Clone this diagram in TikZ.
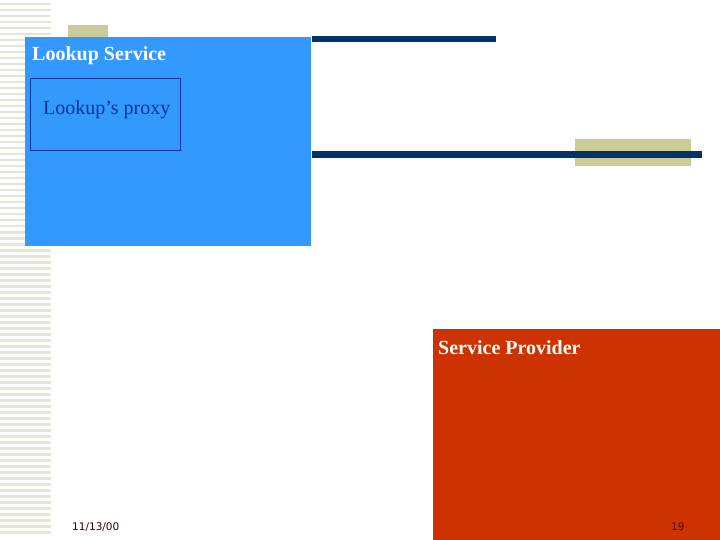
\documentclass[tikz,border=0pt]{standalone}
\usepackage{fontspec}
\setmainfont{Liberation Serif}
\newfontfamily\datefont{DejaVu Sans}

\definecolor{lookupblue}{HTML}{3399FF}
\definecolor{proxyblue}{HTML}{003399}
\definecolor{barblue}{HTML}{003366}
\definecolor{khaki}{HTML}{CCCC99}
\definecolor{stripe}{HTML}{E6E6D4}
\definecolor{providerred}{HTML}{CC3300}
\definecolor{datebrown}{HTML}{330000}

\begin{document}
\begin{tikzpicture}[x = 1pt, y = -1pt,
		label text/.style = {anchor = base west, inner sep = 0pt, font = \fontsize{20}{24}\selectfont},
		title text/.style = {anchor = base west, inner sep = 0pt, text = white, font = \bfseries\fontsize{20}{24}\selectfont},
		foot text/.style = {anchor = base west, inner sep = 0pt, font = \datefont\fontsize{10.5}{12}\selectfont}]
				\useasboundingbox (0, 0) rectangle (720, 540);
				
				% stripes
				\foreach \y in {3, 9, ..., 531}
					\fill[stripe] (0, \y) rectangle (51, \y + 2.5);
				
				% khaki patches
				\fill[khaki] (68, 25) rectangle (108, 37);
				\fill[khaki] (575, 139) rectangle (691, 166);
				
				% boxes
				\fill[lookupblue] (25, 37) rectangle (311, 246);
				\draw[proxyblue, line width = 1pt] (30.5, 78.5) rectangle (180.5, 150.5);
				\fill[providerred] (433, 329) rectangle (720, 540);
				
				% bars
				\fill[barblue] (312, 36) rectangle (496, 42);
				\fill[barblue] (312, 151) rectangle (702, 158);
				
				% labels
				\node[title text] (lookup) at (32, 60.5) {Lookup Service};
				\node[label text, text = proxyblue] (proxy) at (43, 114.5) {Lookup’s proxy};
				\node[title text] (provider) at (438, 354) {Service Provider};
				
				% footer
				\node[foot text, text = datebrown] (date) at (72, 530) {11/13/00};
				\node[foot text, text = datebrown!80!providerred] (page) at (671, 530) {19};
				
			\end{tikzpicture}
\end{document}
